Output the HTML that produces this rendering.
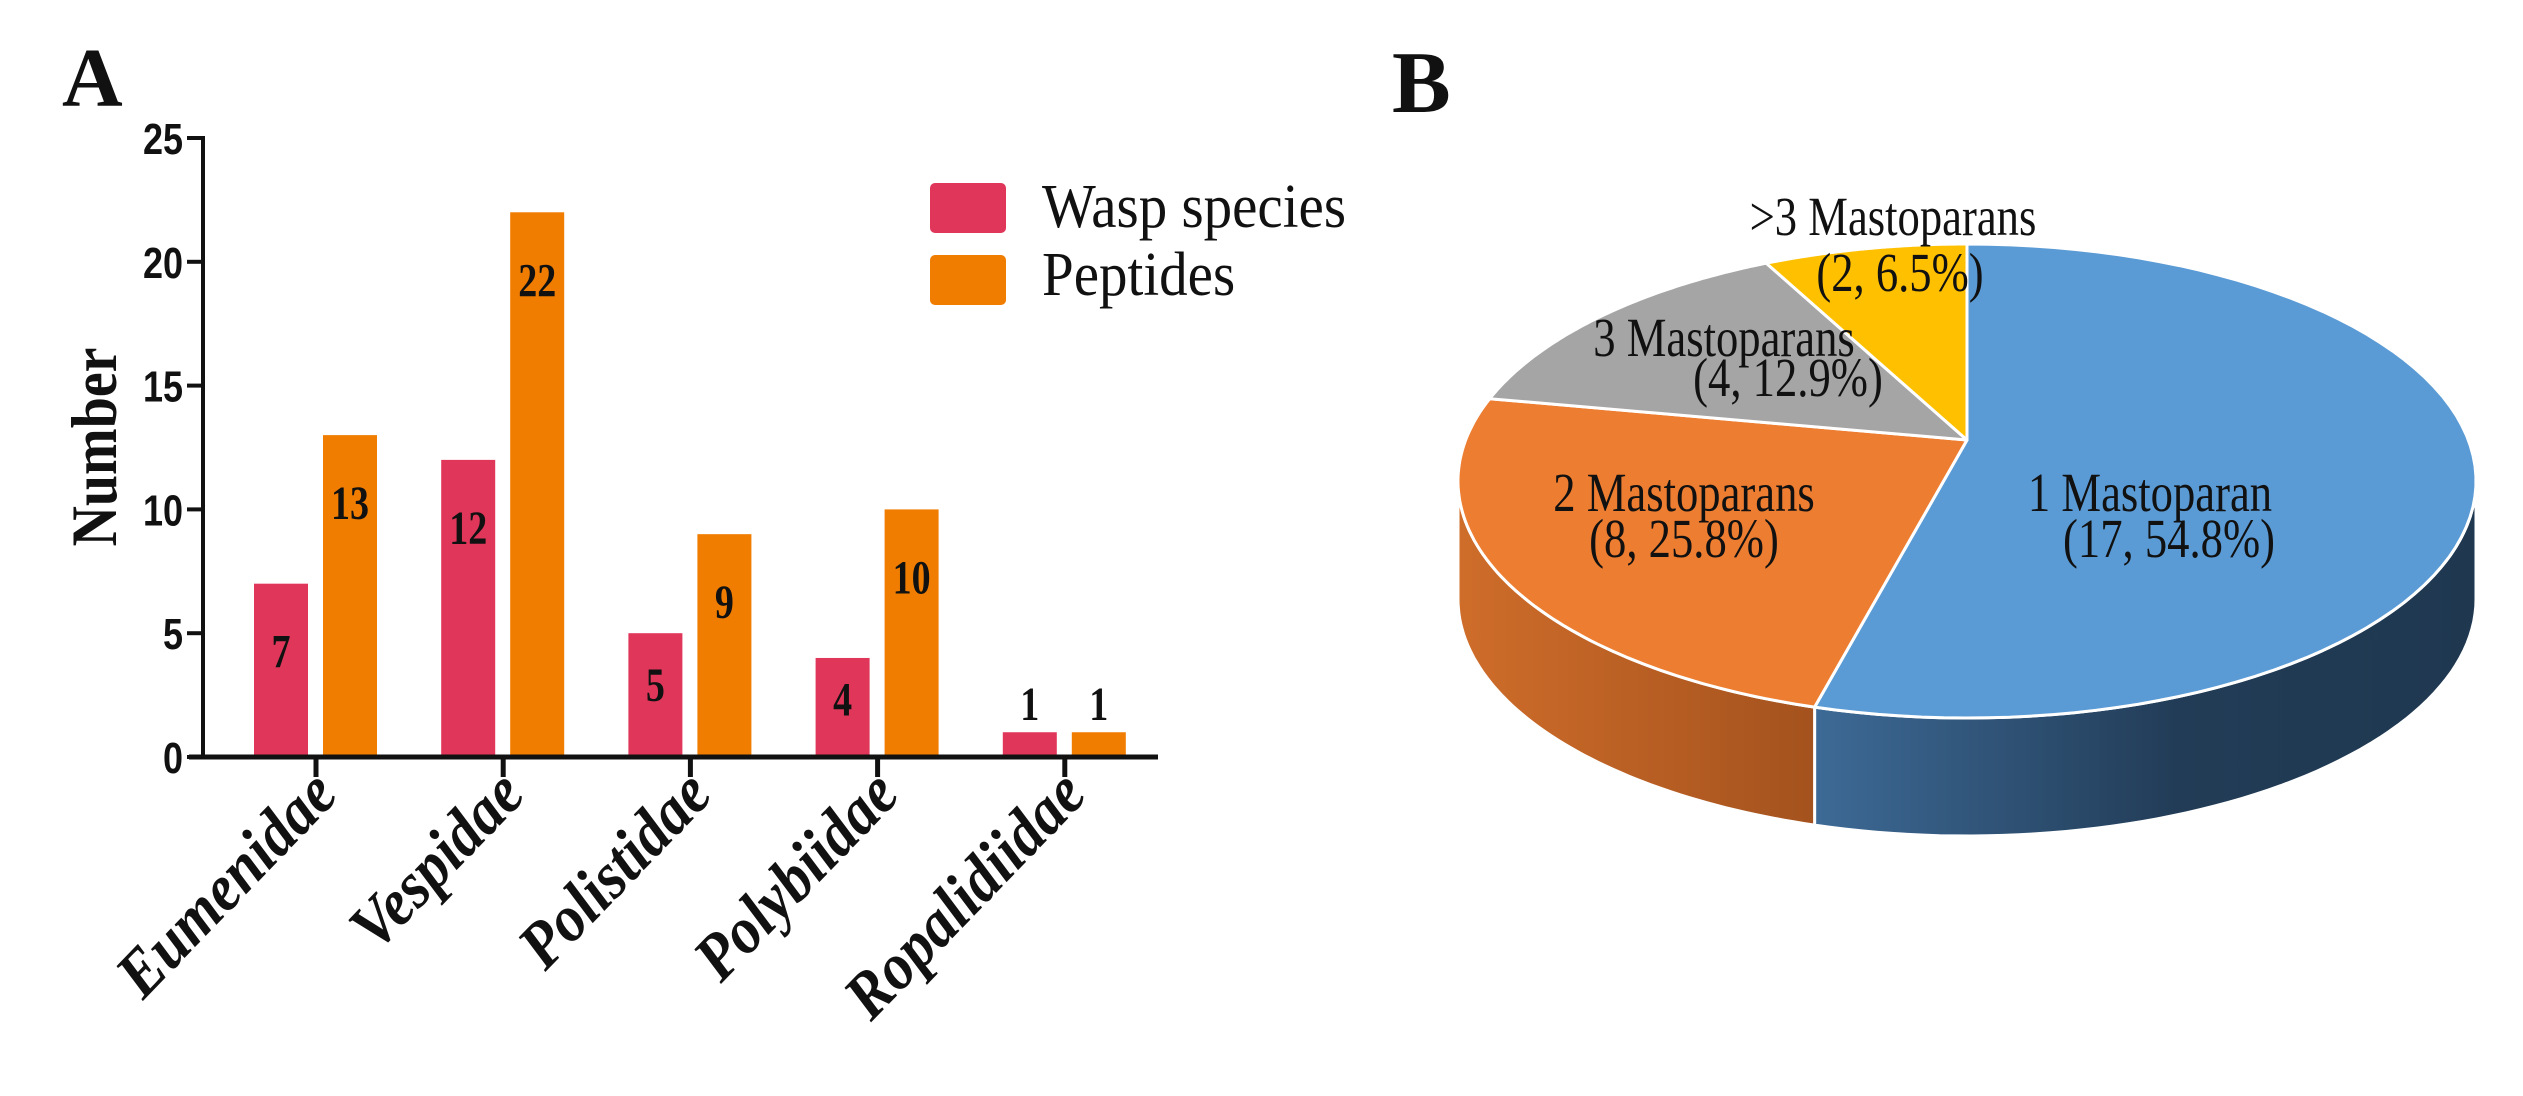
<!DOCTYPE html>
<html><head><meta charset="utf-8"><style>
html,body{margin:0;padding:0;background:#fff;}
svg{display:block;}
text{font-family:"Liberation Serif","DejaVu Serif",serif;fill:#111;}
.sans{font-family:"Liberation Sans","DejaVu Sans",sans-serif;font-weight:bold;}
</style></head><body>
<svg id="fig" width="2523" height="1096" viewBox="0 0 2523 1096" xmlns="http://www.w3.org/2000/svg">
<defs>
<linearGradient id="gBlue" x1="0" x2="1" y1="0" y2="0"><stop offset="0" stop-color="#3d6a96"/><stop offset="0.55" stop-color="#223c57"/><stop offset="1" stop-color="#1f3850"/></linearGradient>
<linearGradient id="gOrange" x1="0" x2="1" y1="0" y2="0"><stop offset="0" stop-color="#cf6d2a"/><stop offset="1" stop-color="#a4521e"/></linearGradient>
</defs>
<text x="62" y="106" font-size="84" font-weight="bold">A</text>
<text x="1392" y="112" font-size="88" font-weight="bold">B</text>
<g id="bar"></g>
<g id="pie"></g>
</svg>
<script>
const categories = ["Eumenidae","Vespidae","Polistidae","Polybiidae","Ropalidiidae"];
const waspSpecies = [7,12,5,4,1];
const peptides = [13,22,9,10,1];
const yTicks = [0,5,10,15,20,25];
const seriesNames = ["Wasp species","Peptides"];

const pieLabels = ["1 Mastoparan","2 Mastoparans","3 Mastoparans",">3 Mastoparans"];
const pieCounts = [17,8,4,2];

const NS="http://www.w3.org/2000/svg";
function mk(tag, attrs, parent, txt){const e=document.createElementNS(NS,tag);for(const k in attrs)e.setAttribute(k,attrs[k]);if(txt!==undefined)e.textContent=txt;parent.appendChild(e);return e;}

// ---- Bar chart ----
const bar=document.getElementById('bar');
const x0=203, xEnd=1158, y0=757, yTop=138, yMax=25;
const yS=v=>y0-(v/yMax)*(y0-yTop);
const xC=i=>316+i*187.2;
const bw=54;
const colors=["#E0365A","#F07D00"];
const series=[waspSpecies,peptides];
series.forEach((vals,s)=>{
  vals.forEach((v,i)=>{
    const x = s===0 ? xC(i)-62 : xC(i)+7;
    const r=mk('rect',{x:x,y:yS(v),width:bw,height:y0-yS(v),fill:colors[s]},bar);
    
    
    const h=y0-yS(v);
    let ly = v<=1 ? yS(v)-12 : yS(v)+Math.min(68,h*0.42)+16;
    const t=mk('text',{x:0,y:0,'font-size':40,'font-weight':'bold','text-anchor':'middle',transform:`translate(${x+bw/2} ${ly}) scale(0.95 1.2)`},bar,String(v));
    
    
  });
});
const ya=mk('line',{x1:x0,y1:yTop-2,x2:x0,y2:y0+2,stroke:'#111','stroke-width':4},bar);


const xa=mk('line',{x1:x0-14,y1:y0,x2:xEnd,y2:y0,stroke:'#111','stroke-width':5},bar);


yTicks.forEach(v=>{
  mk('line',{x1:x0-16,y1:yS(v),x2:x0,y2:yS(v),stroke:'#111','stroke-width':4},bar);
  const t=mk('text',{x:0,y:0,'font-size':36,'text-anchor':'end','class':'sans',transform:`translate(${x0-20} ${yS(v)+16}) scale(1 1.2)`},bar,String(v));
  
  
});
categories.forEach((c,i)=>{
  mk('line',{x1:xC(i),y1:y0,x2:xC(i),y2:y0+20,stroke:'#111','stroke-width':5},bar);
  const bx=xC(i)+24, by=797;
  const t=mk('text',{x:0,y:0,'font-size':60,'font-weight':'bold','font-style':'italic','text-anchor':'end',transform:`translate(${bx} ${by}) rotate(-46) scale(1 1.1)`},bar,c);
  
  
});
const yt=mk('text',{x:0,y:0,'font-size':56,'font-weight':'bold','text-anchor':'middle',transform:'translate(116 447) rotate(-90) scale(1 1.15)'},bar,'Number');


seriesNames.forEach((n,s)=>{
  const r=mk('rect',{x:930,y:183+s*72,width:76,height:50,rx:5,fill:colors[s]},bar);
  
  
  const t=mk('text',{x:0,y:0,'font-size':57,transform:`translate(1042 ${227+s*68}) scale(1 1.1)`},bar,n);
  
  
});

// ---- Pie chart ----
const pie=document.getElementById('pie');
const cx=1967, cy=481, rx=509, ry=237, ax=1967, ay=440, depth=118;
const pcol=["#5B9BD5","#ED7D31","#A5A5A5","#FFC000"];
const total=pieCounts.reduce((a,b)=>a+b,0);
const pt=(t,dy=0)=>[cx+rx*Math.sin(t), cy-ry*Math.cos(t)+dy];
let acc=0; const bounds=[0];
pieCounts.forEach(c=>{acc+=c;bounds.push(acc/total*2*Math.PI);});
pieCounts.forEach((c,i)=>{
  const a=Math.max(bounds[i],Math.PI/2), b=Math.min(bounds[i+1],3*Math.PI/2);
  if(b<=a) return;
  let d='';const N=60;
  for(let k=0;k<=N;k++){const p=pt(a+(b-a)*k/N);d+=(k?'L':'M')+p[0].toFixed(1)+' '+p[1].toFixed(1);}
  for(let k=N;k>=0;k--){const p=pt(a+(b-a)*k/N,depth);d+='L'+p[0].toFixed(1)+' '+p[1].toFixed(1);}
  const e=mk('path',{d:d+'Z',fill:i===0?'url(#gBlue)':'url(#gOrange)',stroke:'#fff','stroke-width':3},pie);
  
  
});
pieCounts.forEach((c,i)=>{
  const a=bounds[i], b=bounds[i+1];
  let d=`M${ax} ${ay}`;const N=80;
  for(let k=0;k<=N;k++){const p=pt(a+(b-a)*k/N);d+='L'+p[0].toFixed(1)+' '+p[1].toFixed(1);}
  const e=mk('path',{d:d+'Z',fill:pcol[i],stroke:'#fff','stroke-width':3,'stroke-linejoin':'round'},pie);
  
  
});
const labPos=[[2150,494,2169,540],[1684,494,1684,540],[1724,339,1788,379],[1893,218,1900,274]];
pieLabels.forEach((l,i)=>{
  const pct=(pieCounts[i]/total*100).toFixed(1);
  const p=labPos[i];
  const t1=mk('text',{x:0,y:0,'font-size':47,'text-anchor':'middle',transform:`translate(${p[0]} ${p[1]+17}) scale(0.95 1.18)`},pie,l);
  
  
  const t2=mk('text',{x:0,y:0,'font-size':47,'text-anchor':'middle',transform:`translate(${p[2]} ${p[3]+17}) scale(0.95 1.18)`},pie,`(${pieCounts[i]}, ${pct}%)`);
  
  
});
</script>
</body></html>
